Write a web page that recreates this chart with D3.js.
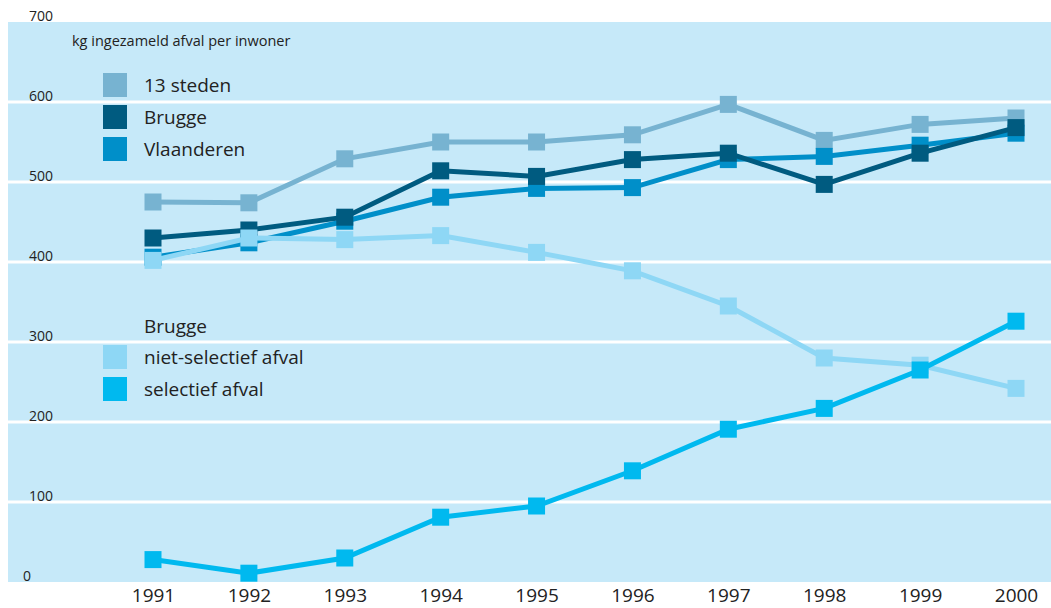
<!DOCTYPE html>
<html>
<head>
<meta charset="utf-8">
<script src="https://cdn.jsdelivr.net/npm/d3@7"></script>
<style>
  body { margin: 0; background: #fff; }
  svg { display: block; font-family: "Open Sans", sans-serif; }
</style>
</head>
<body>
<svg id="chart" width="1051" height="608"></svg>
<script>
// jaren op de x-as
var years = [1991, 1992, 1993, 1994, 1995, 1996, 1997, 1998, 1999, 2000];
var yTicks = [0, 100, 200, 300, 400, 500, 600, 700];

// kg ingezameld afval per inwoner
var dertienSteden = [475, 474, 529, 550, 550, 559, 597, 552, 572, 580];
var vlaanderen = [406, 424, 451, 481, 492, 493, 528, 532, 546, 561];
var brugge = [430, 440, 456, 514, 507, 528, 536, 497, 536, 568];
var nietSelectief = [402, 430, 428, 433, 412, 389, 345, 280, 271, 242];
var selectief = [28, 11, 30, 81, 95, 139, 191, 217, 265, 326];

var series = [
  { name: "13 steden", values: dertienSteden, color: "#77b3d1" },
  { name: "Vlaanderen", values: vlaanderen, color: "#008fc9" },
  { name: "Brugge", values: brugge, color: "#005b80" },
  { name: "niet-selectief afval", values: nietSelectief, color: "#8ed7f5" },
  { name: "selectief afval", values: selectief, color: "#00b9ef" }
];

var svg = d3.select("#chart"),
  width = +svg.attr("width");

var panelLeft = 8;
var x = d3.scaleLinear().domain([1991, 2000]).range([153, 1016]);
var y = d3.scaleLinear().domain([0, 700]).range([582, 22]);

//achtergrond
svg
  .append("rect")
  .attr("x", panelLeft)
  .attr("y", y(700))
  .attr("width", width - panelLeft)
  .attr("height", y(0) - y(700))
  .attr("fill", "#c6e9f9");

//rasterlijnen
svg
  .append("g")
  .selectAll("line")
  .data(yTicks.filter(function(d) {
    return d > 0 && d < 700;
  }))
  .enter()
  .append("line")
  .attr("x1", panelLeft)
  .attr("x2", width)
  .attr("y1", function(d) {
    return y(d);
  })
  .attr("y2", function(d) {
    return y(d);
  })
  .attr("stroke", "#fff")
  .attr("stroke-width", 3);

//y-as labels
var yAxis = svg
  .append("g")
  .call(d3.axisLeft(y).tickValues(yTicks).tickSize(0));
yAxis.select(".domain").remove();
yAxis
  .selectAll("text")
  .attr("text-anchor", "start")
  .attr("x", function(d) {
    return d === 0 ? 23 : 29;
  })
  .attr("dy", "-2")
  .attr("font-size", 14)
  .attr("font-family", "Open Sans, sans-serif")
  .attr("fill", "#222");

//x-as labels
var xAxis = svg
  .append("g")
  .attr("transform", "translate(0," + y(0) + ")")
  .call(
    d3.axisBottom(x)
      .tickValues(years)
      .tickFormat(d3.format("d"))
      .tickSize(0)
      .tickPadding(7)
  );
xAxis.select(".domain").remove();
xAxis
  .selectAll("text")
  .attr("font-size", 19)
  .attr("font-family", "Open Sans, sans-serif")
  .attr("fill", "#222");

svg
  .append("text")
  .attr("x", 72)
  .attr("y", 46)
  .attr("font-size", 14.5)
  .attr("fill", "#222")
  .text("kg ingezameld afval per inwoner");

//lijnen en markers
var line = d3
  .line()
  .x(function(d, i) {
    return x(years[i]);
  })
  .y(function(d) {
    return y(d);
  });

var ms = 17;
series.forEach(function(s) {
  var g = svg.append("g");
  g.append("path")
    .attr("d", line(s.values))
    .attr("fill", "none")
    .attr("stroke", s.color)
    .attr("stroke-width", 5);
  g.selectAll("rect")
    .data(s.values)
    .enter()
    .append("rect")
    .attr("x", function(d, i) {
      return x(years[i]) - ms / 2;
    })
    .attr("y", function(d) {
      return y(d) - ms / 2;
    })
    .attr("width", ms)
    .attr("height", ms)
    .attr("fill", s.color);
});

//legendes
function legend(items, top) {
  var lg = svg.append("g");
  items.forEach(function(s, i) {
    lg.append("rect")
      .attr("x", 103)
      .attr("y", top + i * 32)
      .attr("width", 24)
      .attr("height", 24)
      .attr("fill", s.color);
    lg.append("text")
      .attr("x", 144)
      .attr("y", top + i * 32 + 12)
      .attr("dy", "0.35em")
      .attr("font-size", 19)
      .attr("fill", "#222")
      .text(s.name);
  });
}

legend([series[0], series[2], series[1]], 73);

svg
  .append("text")
  .attr("x", 144)
  .attr("y", 326)
  .attr("dy", "0.35em")
  .attr("font-size", 19)
  .attr("fill", "#222")
  .text("Brugge");
legend([series[3], series[4]], 345);
</script>
</body>
</html>
